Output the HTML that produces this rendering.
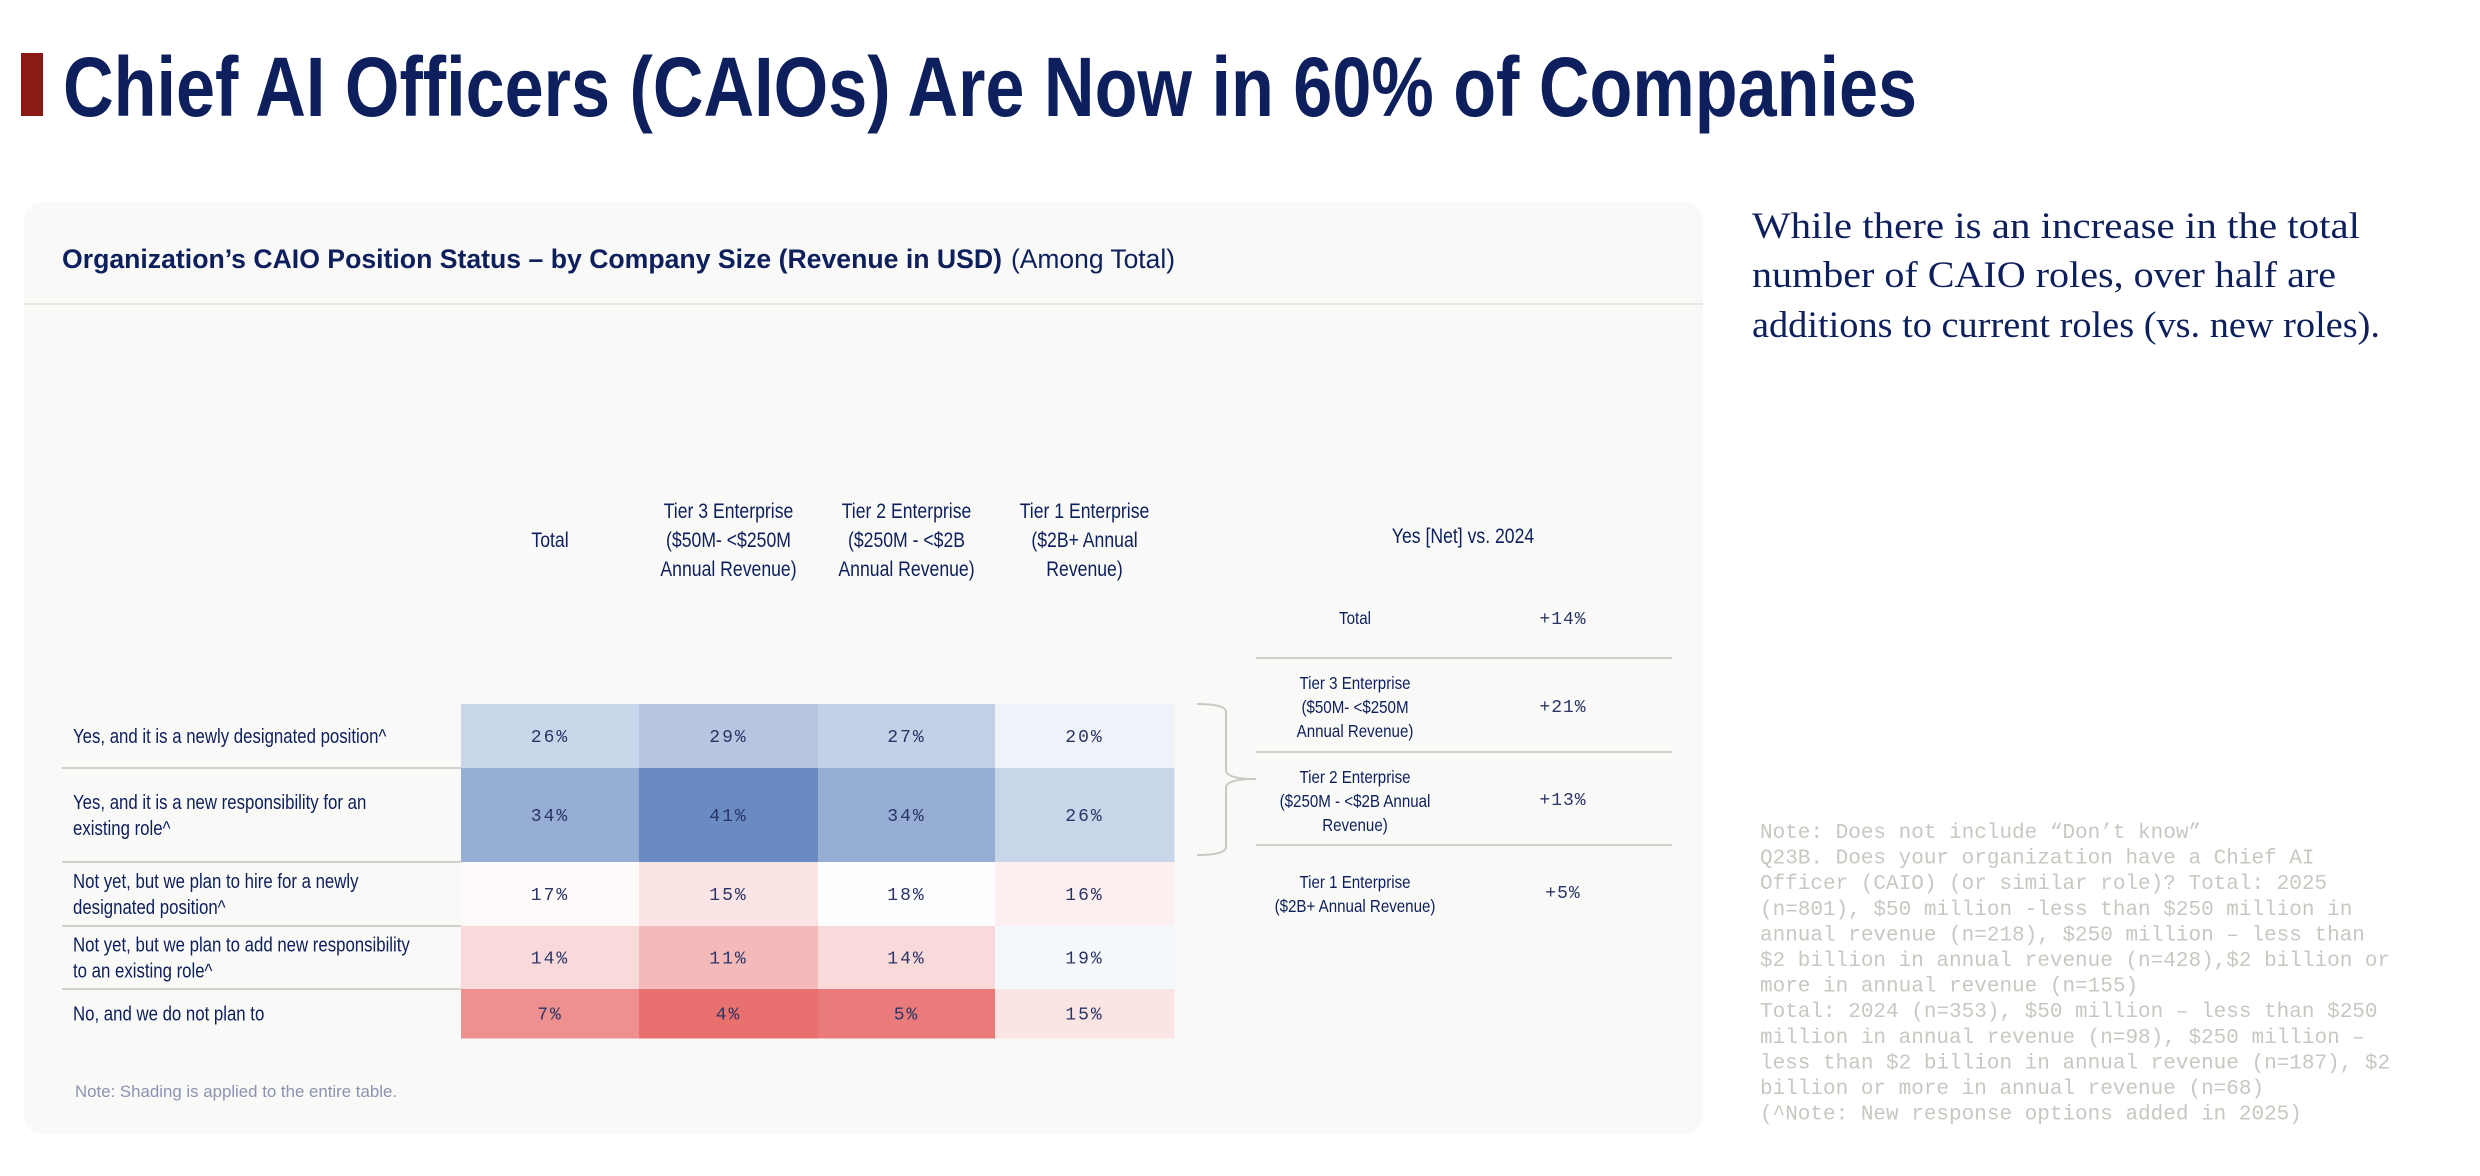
<!DOCTYPE html>
<html><head><meta charset="utf-8"><style>
html,body{margin:0;padding:0;background:#fff;width:2480px;height:1176px;overflow:hidden}
svg{display:block}
</style></head><body>
<svg id="page" width="2480" height="1176" viewBox="0 0 2480 1176" xmlns="http://www.w3.org/2000/svg">
<rect x="21" y="53" width="22" height="63" fill="#8b1a14"/>
<text x="63" y="116" font-family="Liberation Sans, sans-serif" font-weight="bold" font-size="84" fill="#0d1f5c" textLength="1854" lengthAdjust="spacingAndGlyphs">Chief AI Officers (CAIOs) Are Now in 60% of Companies</text>
<rect x="24" y="202" width="1679" height="932" rx="18" fill="#f9f9f7"/>
<line x1="24" y1="304" x2="1703" y2="304" stroke="#e6e6e3" stroke-width="2"/>
<text x="62" y="268" font-family="Liberation Sans, sans-serif" font-weight="bold" font-size="27" fill="#0d1f5c" textLength="940" lengthAdjust="spacingAndGlyphs">Organization’s CAIO Position Status – by Company Size (Revenue in USD)</text>
<text x="1011" y="268" font-family="Liberation Sans, sans-serif" font-size="27" fill="#0d1f5c" textLength="164" lengthAdjust="spacingAndGlyphs">(Among Total)</text>
<g font-family="Liberation Serif, serif" font-size="37" fill="#0d1f5c">
<text x="1752" y="238" textLength="608" lengthAdjust="spacingAndGlyphs">While there is an increase in the total</text>
<text x="1752" y="287" textLength="584" lengthAdjust="spacingAndGlyphs">number of CAIO roles, over half are</text>
<text x="1752" y="337" textLength="628" lengthAdjust="spacingAndGlyphs">additions to current roles (vs. new roles).</text>
</g>
<g id="table"></g>
<g id="net"></g>
<text x="75" y="1097" font-family="Liberation Sans, sans-serif" font-size="17" fill="#8a93b0" textLength="322" lengthAdjust="spacingAndGlyphs">Note: Shading is applied to the entire table.</text>
<g id="notes" font-family="Liberation Mono, monospace" font-size="21" fill="#c8c7c0"></g>
</svg>
<script>
const categories = ["Total","Tier 3","Tier 2","Tier 1"];
const rowLabels = [
 ["Yes, and it is a newly designated position^"],
 ["Yes, and it is a new responsibility for an","existing role^"],
 ["Not yet, but we plan to hire for a newly","designated position^"],
 ["Not yet, but we plan to add new responsibility","to an existing role^"],
 ["No, and we do not plan to"]
];
const colHeaders = [["Total"],["Tier 3 Enterprise","($50M- <$250M","Annual Revenue)"],["Tier 2 Enterprise","($250M - <$2B","Annual Revenue)"],["Tier 1 Enterprise","($2B+ Annual","Revenue)"]];
const rowYes1 = [26,29,27,20];
const rowYes2 = [34,41,34,26];
const rowNotYet1 = [17,15,18,16];
const rowNotYet2 = [14,11,14,19];
const rowNo = [7,4,5,15];
const netLabels = [["Total"],["Tier 3 Enterprise","($50M- <$250M","Annual Revenue)"],["Tier 2 Enterprise","($250M - <$2B Annual","Revenue)"],["Tier 1 Enterprise","($2B+ Annual Revenue)"]];
const netValues = [14,21,13,5];
const noteLines = ["Note: Does not include “Don’t know”","Q23B. Does your organization have a Chief AI","Officer (CAIO) (or similar role)? Total: 2025","(n=801), $50 million -less than $250 million in","annual revenue (n=218), $250 million – less than","$2 billion in annual revenue (n=428),$2 billion or","more in annual revenue (n=155)","Total: 2024 (n=353), $50 million – less than $250","million in annual revenue (n=98), $250 million –","less than $2 billion in annual revenue (n=187), $2","billion or more in annual revenue (n=68)","(^Note: New response options added in 2025)"];

const NS="http://www.w3.org/2000/svg";
const rows=[rowYes1,rowYes2,rowNotYet1,rowNotYet2,rowNo];
const colX=[461,639,818,995,1174];
const rowY=[704,768,862,926,989,1038];
function mk(tag,attrs,parent){const e=document.createElementNS(NS,tag);for(const k in attrs)e.setAttribute(k,attrs[k]);parent.appendChild(e);return e;}
function ntext(parent,x,y,str,size,anchor,sx){
 const t=mk('text',{transform:`translate(${x},${y}) scale(${sx},1)`,'font-family':'Liberation Sans, sans-serif','font-size':size,fill:'#0d1f5c','text-anchor':anchor},parent);
 t.textContent=str;return t;}
function color(v){
 const mid=17.5;let c;
 if(v>=mid){const t=Math.min(1,(v-mid)/(41-mid));c=[255-t*149,255-t*116,255-t*61];}
 else{const t=Math.min(1,(mid-v)/(mid-4));c=[255-t*23,255-t*143,255-t*144];}
 return `rgb(${c.map(Math.round).join(',')})`;}
const tb=document.getElementById('table');
colHeaders.forEach((h,i)=>{
 const cx=(colX[i]+colX[i+1])/2;
 const g=mk('g',{},tb);
 
 
 const ys=h.length===1?[547]:[518,547,576];
 h.forEach((s,j)=>ntext(g,cx,ys[j],s,21,'middle',0.84));
});
rows.forEach((vals,r)=>{
 const y0=rowY[r],y1=rowY[r+1],cy=(y0+y1)/2;
 const lg=mk('g',{},tb);
 
 
 const L=rowLabels[r];
 const ys=L.length===1?[cy+7]:[cy-6,cy+20];
 L.forEach((s,j)=>ntext(lg,73,ys[j],s,20,'start',0.84));
 if(r>0){const ln=mk('line',{x1:62,x2:461,y1:y0,y2:y0,stroke:'#d0d0cd','stroke-width':2},tb);
  
  }
 vals.forEach((v,c)=>{
  const rc=mk('rect',{x:colX[c],y:y0,width:colX[c+1]-colX[c]+0.5,height:y1-y0+0.5,fill:color(v)},tb);
  
  
  const t=mk('text',{x:(colX[c]+colX[c+1])/2,y:cy+6,'text-anchor':'middle','font-family':'Liberation Mono, monospace','font-size':18,'letter-spacing':2,fill:'#2a3566'},tb);
  t.textContent=v+'%';
  
  
 });
});
const nt=document.getElementById('net');
ntext(nt,1463,543,'Yes [Net] vs. 2024',21,'middle',0.84);
[658,752,845].forEach(y=>{const l=mk('line',{x1:1256,x2:1672,y1:y,y2:y,stroke:'#d0d0cd','stroke-width':2},nt);
 
 });
const netLabY=[[624],[689,713,737],[783,807,831],[888,912]];
const netValY=[624,712,805,898];
netLabels.forEach((L,i)=>{
 const g=mk('g',{},nt);
 
 
 L.forEach((s,j)=>ntext(g,1355,netLabY[i][j],s,18,'middle',0.84));
 const t=mk('text',{x:1563,y:netValY[i],'text-anchor':'middle','font-family':'Liberation Mono, monospace','font-size':18,'letter-spacing':1,fill:'#2a3566'},g);
 t.textContent='+'+netValues[i]+'%';
});
const br=mk('path',{d:'M1197,704 Q1226,704 1226,712 L1226,770 Q1226,779 1256,779 Q1226,779 1226,788 L1226,847 Q1226,855 1197,855',fill:'none',stroke:'#c8c8c5','stroke-width':2},nt);


const ng=document.getElementById('notes');
noteLines.forEach((s,i)=>{const t=mk('text',{x:1760,y:838+i*25.6},ng);t.textContent=s;
 
 });
</script>
</body></html>
